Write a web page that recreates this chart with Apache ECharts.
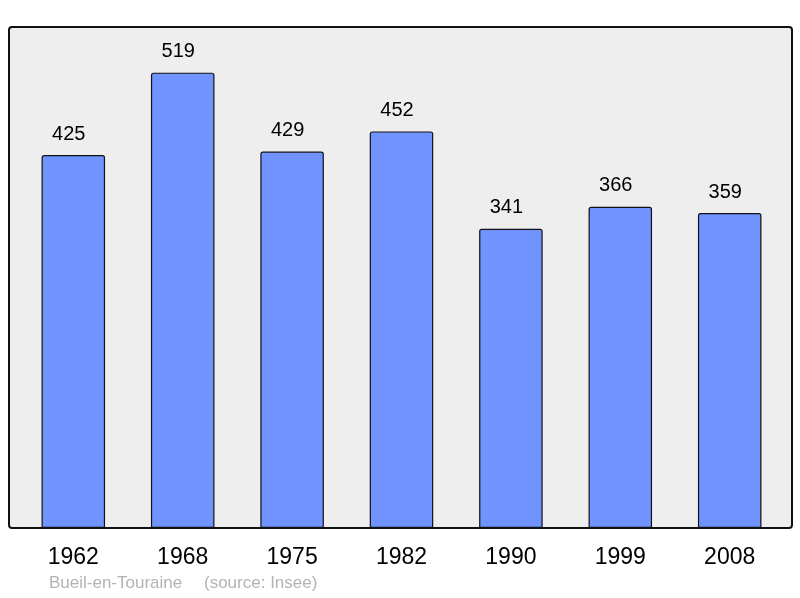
<!DOCTYPE html>
<html>
<head>
<meta charset="utf-8">
<script src="https://cdn.jsdelivr.net/npm/echarts@6/dist/echarts.min.js"></script>
<style>
  html, body { margin: 0; padding: 0; background: #fff; }
  #chart { width: 800px; height: 598px; }
</style>
</head>
<body>
<div id="chart"></div>
<script>
// données population
const annees = ["1962", "1968", "1975", "1982", "1990", "1999", "2008"];
const population = [425, 519, 429, 452, 341, 366, 359];
const commune = "Bueil-en-Touraine";
const source = "(source: Insee)";

const police = "'Liberation Sans', Arial, sans-serif";
const chart = echarts.init(document.getElementById("chart"));

const option = {
  backgroundColor: "#fff",
  animation: false,
  grid: { left: 18.6, right: 15.6, top: 27, bottom: 70 },
  graphic: [
    {
      type: "rect",
      z: 0,
      shape: { x: 9, y: 27, width: 783, height: 501, r: 3 },
      style: { fill: "#eeeeee", stroke: "#111", lineWidth: 2 }
    },
    {
      type: "text",
      left: 49,
      top: 575,
      style: { text: commune, fill: "#b3b3b3", font: "17px " + police }
    },
    {
      type: "text",
      left: 204,
      top: 575,
      style: { text: source, fill: "#b3b3b3", font: "17px " + police }
    }
  ],
  xAxis: {
    type: "category",
    data: annees,
    axisLine: { show: false },
    axisTick: { show: false },
    axisLabel: {
      color: "#000",
      fontSize: 23,
      fontFamily: police,
      margin: 18
    }
  },
  yAxis: {
    type: "value",
    min: 0,
    max: 571,
    show: false,
    splitLine: { show: false }
  },
  series: [{
    type: "bar",
    data: population,
    barWidth: 63.5,
    z: 5,
    itemStyle: {
      color: "#7093ff",
      borderColor: "#111",
      borderWidth: 1.2,
      borderRadius: [2, 2, 0, 0]
    },
    label: {
      show: true,
      position: "top",
      distance: 11,
      offset: [-4.5, 0],
      color: "#000",
      fontSize: 20,
      fontFamily: police
    }
  }]
};

chart.setOption(option);
</script>
</body>
</html>
